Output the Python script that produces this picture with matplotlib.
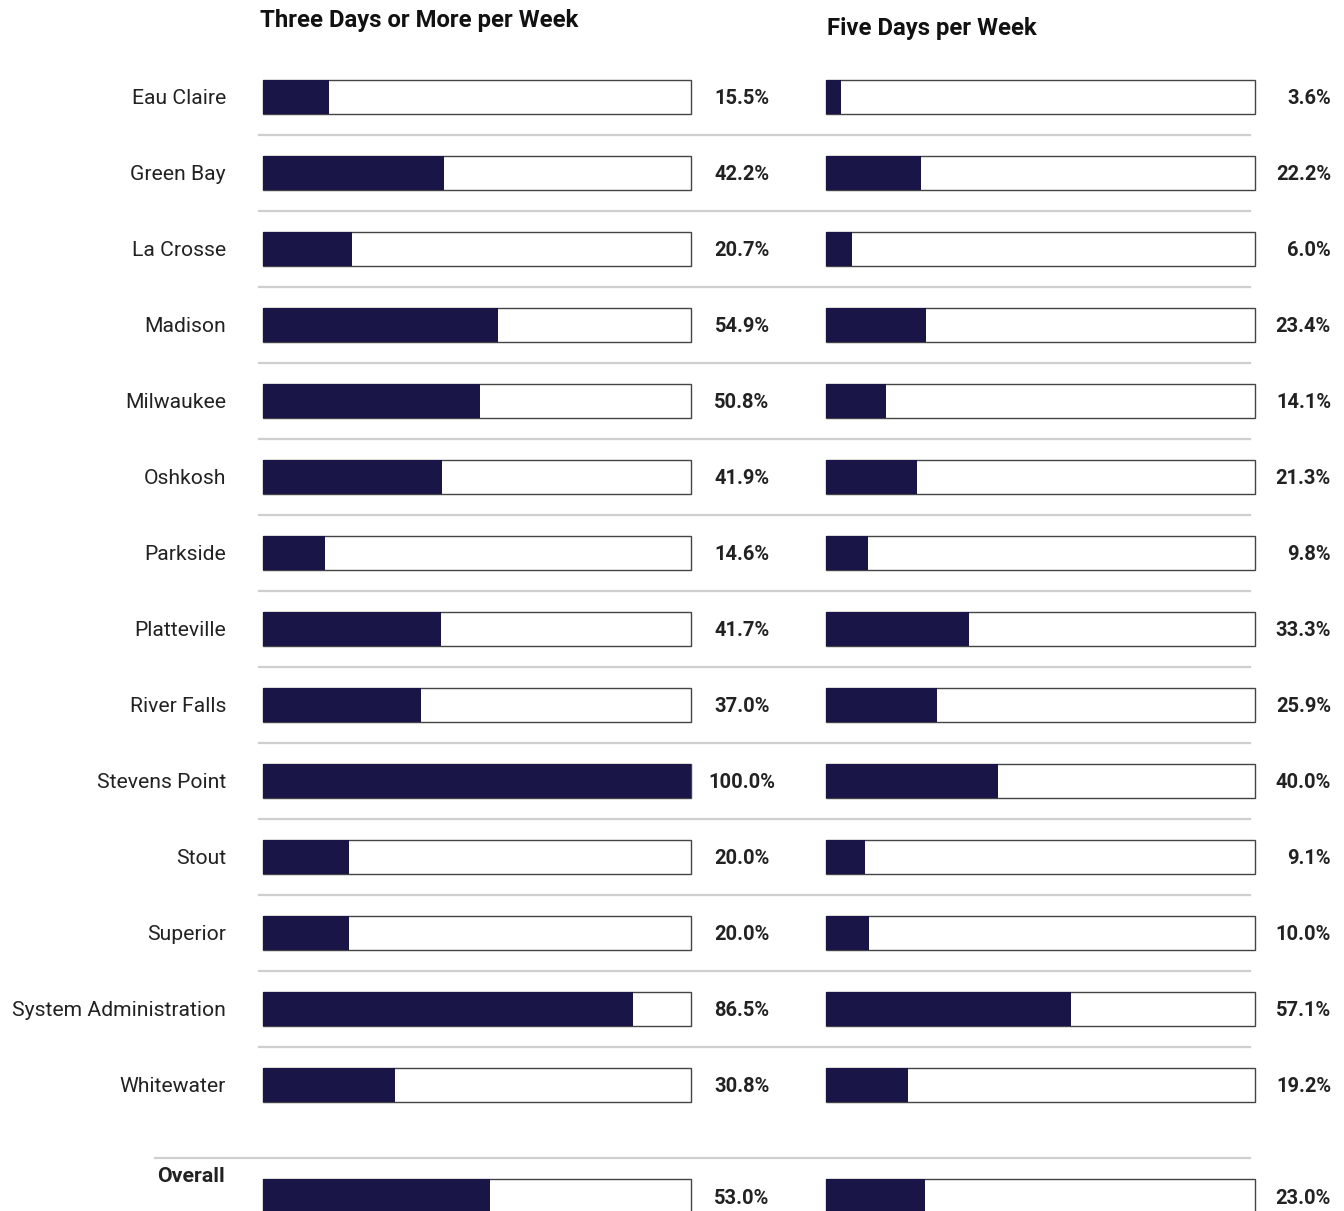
import matplotlib
matplotlib.use("Agg")
import matplotlib.pyplot as plt
import matplotlib.transforms as mtransforms
import numpy as np

plt.rcParams['font.family'] = ['Roboto', 'DejaVu Sans']

categories = ["Eau Claire", "Green Bay", "La Crosse", "Madison", "Milwaukee", "Oshkosh",
              "Parkside", "Platteville", "River Falls", "Stevens Point", "Stout", "Superior",
              "System Administration", "Whitewater"]
three_days = [15.5, 42.2, 20.7, 54.9, 50.8, 41.9, 14.6, 41.7, 37.0, 100.0, 20.0, 20.0, 86.5, 30.8]
five_days = [3.6, 22.2, 6.0, 23.4, 14.1, 21.3, 9.8, 33.3, 25.9, 40.0, 9.1, 10.0, 57.1, 19.2]
overall_label = "Overall"
overall_three = 53.0
overall_five = 23.0
titles = ["Three Days or More per Week", "Five Days per Week"]

W, H = 1344, 1211
fig = plt.figure(figsize=(W / 100, H / 100), dpi=100)

row0, step = 97, 76
ytop = -row0 / step
ybot = (H - row0) / step
overall_y = (1196 - row0) / step
bar_h = 34 / step
navy = '#191547'
txt = '#222222'
dy = 2 / step  # small downward text nudge

def make_ax(x0, x1):
    ax = fig.add_axes([x0 / W, 0, (x1 - x0) / W, 1])
    ax.set_xlim(0, 100)
    ax.set_ylim(ybot, ytop)
    ax.axis('off')
    return ax

axL = make_ax(263, 691)
axR = make_ax(826, 1255)

ys = np.arange(len(categories))
for ax, vals, ov in [(axL, three_days, overall_three), (axR, five_days, overall_five)]:
    allv = list(vals) + [ov]
    ally = list(ys) + [overall_y]
    ax.barh(ally, [100] * len(ally), height=bar_h, color='white', edgecolor='#444444',
            linewidth=1.0, zorder=2, clip_on=False)
    ax.barh(ally, allv, height=bar_h, color=navy, edgecolor='none', zorder=3, clip_on=False)

# separators
sep = fig.add_axes([0, 0, 1, 1])
sep.set_xlim(0, W)
sep.set_ylim(ybot, ytop)
sep.axis('off')
for i in range(len(categories) - 1):
    sep.plot([259, 1250], [i + 0.5, i + 0.5], color='#cfcfcf', lw=1.6, zorder=1)
sep.plot([155, 1250], [(1158 - row0) / step] * 2, color='#cfcfcf', lw=1.6, zorder=1)

trL = mtransforms.blended_transform_factory(fig.transFigure, axL.transData)
for y, name, v3, v5 in zip(ys, categories, three_days, five_days):
    axL.text(226 / W, y + dy, name, transform=trL, ha='right', va='center', fontsize=15.2, color=txt)
    axL.text(742 / W, y + dy, f"{v3:.1f}%", transform=trL, ha='center', va='center', fontsize=14.5,
             fontweight='bold', color=txt)
    axL.text(1331 / W, y + dy, f"{v5:.1f}%", transform=trL, ha='right', va='center', fontsize=14.5,
             fontweight='bold', color=txt)

axL.text(157 / W, (1176 - row0) / step, overall_label, transform=trL, ha='left', va='center',
         fontsize=15.4, fontweight='bold', color=txt)
axL.text(742 / W, overall_y + dy, f"{overall_three:.1f}%", transform=trL, ha='center', va='center',
         fontsize=14.5, fontweight='bold', color=txt)
axL.text(1331 / W, overall_y + dy, f"{overall_five:.1f}%", transform=trL, ha='right', va='center',
         fontsize=14.5, fontweight='bold', color=txt)

axL.text(260 / W, (21 - row0) / step, titles[0], transform=trL, ha='left', va='center',
         fontsize=17.2, fontweight='bold', color='#111111')
axL.text(827 / W, (28 - row0) / step, titles[1], transform=trL, ha='left', va='center',
         fontsize=17.2, fontweight='bold', color='#111111')

fig.savefig("out.png", dpi=100)
